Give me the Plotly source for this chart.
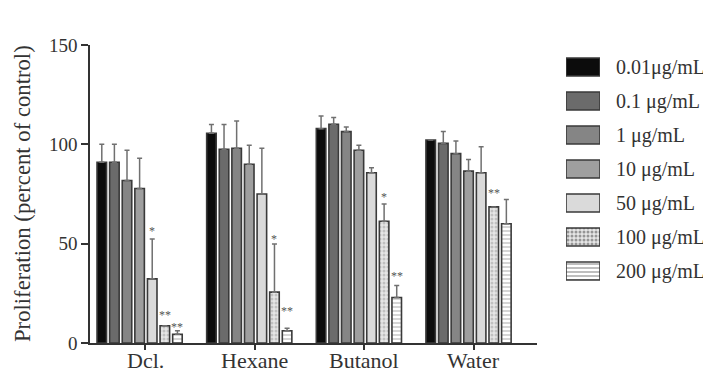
import plotly.graph_objects as go

categories = ["Dcl.", "Hexane", "Butanol", "Water"]
series_names = ["0.01μg/mL", "0.1 μg/mL", "1 μg/mL", "10 μg/mL", "50 μg/mL", "100 μg/mL", "200 μg/mL"]

# values per concentration (Dcl., Hexane, Butanol, Water)
v001 = [91.0, 105.6, 107.9, 102.2]
v01 = [91.0, 97.5, 110.1, 100.5]
v1 = [81.8, 98.0, 106.4, 95.3]
v10 = [77.8, 90.0, 97.0, 86.5]
v50 = [32.3, 75.0, 85.7, 85.7]
v100 = [8.7, 25.6, 61.3, 68.5]
v200 = [4.4, 6.2, 22.9, 60.0]

e001 = [9.0, 4.4, 6.4, 0.0]
e01 = [9.0, 12.5, 3.4, 5.9]
e1 = [15.2, 13.8, 2.3, 6.4]
e10 = [15.2, 9.6, 2.5, 5.9]
e50 = [20.1, 23.0, 2.5, 13.1]
e100 = [0.0, 24.2, 8.7, 0.0]
e200 = [1.8, 1.2, 6.0, 12.2]

values = [v001, v01, v1, v10, v50, v100, v200]
errors = [e001, e01, e1, e10, e50, e100, e200]

# significance marks
star_group = [0, 0, 0, 1, 1, 2, 2, 3]
star_series = [4, 5, 6, 5, 6, 5, 6, 5]
star_text = ["*", "**", "**", "*", "**", "*", "**", "**"]
star_y = [58, 15.7, 9.5, 54, 17.7, 75, 35, 77]

# styles
fill_colors = ["#0c0c0c", "#6b6b6b", "#858585", "#9f9f9f", "#dadada", "#e6e6e6", "#ffffff"]
pattern_shapes = ["", "", "", "", "", ".", "-"]
pattern_fg = ["#000", "#000", "#000", "#000", "#000", "#9a9a9a", "#8a8a8a"]
pattern_size = [8, 8, 8, 8, 8, 4, 4]
pattern_solidity = [0.3, 0.3, 0.3, 0.3, 0.3, 0.45, 0.35]

FONT = "Liberation Serif"
BAR_W = 0.087
PITCH = 0.115
START = -0.438

PAGE_OFF = 8  # default body margin of the html page
W_PLOT_PX = 621.0
MAIN_FRAC = 447.0 / W_PLOT_PX

fig = go.Figure()

for j, name in enumerate(series_names):
    fig.add_trace(go.Bar(
        x=categories,
        y=values[j],
        name=name,
        width=BAR_W,
        offset=START + j * PITCH,
        marker=dict(
            color=fill_colors[j],
            line=dict(color="#3a3a3a", width=1.6),
            pattern=dict(shape=pattern_shapes[j], fgcolor=pattern_fg[j],
                         fillmode="overlay", size=pattern_size[j],
                         solidity=pattern_solidity[j]),
        ),
        error_y=dict(type="data", array=errors[j], arrayminus=[0] * len(categories),
                     symmetric=False, color="#707070", thickness=1.5, width=2.5, visible=True),
        showlegend=False,
        xaxis="x", yaxis="y",
    ))

# legend swatches drawn as a horizontal bar trace on its own axes
fig.add_trace(go.Bar(
    x=[1] * len(series_names),
    y=series_names,
    orientation="h",
    marker=dict(
        color=fill_colors,
        line=dict(color="#3a3a3a", width=1.6),
        pattern=dict(shape=pattern_shapes, fgcolor=pattern_fg, fillmode="overlay",
                     size=pattern_size, solidity=pattern_solidity),
    ),
    showlegend=False,
    hoverinfo="skip",
    xaxis="x2", yaxis="y2",
))

annotations = []
for g, s, t, yv in zip(star_group, star_series, star_text, star_y):
    annotations.append(dict(
        x=g + START + s * PITCH + BAR_W / 2, y=yv, xref="x", yref="y",
        text=t, showarrow=False, yshift=-3,
        font=dict(family=FONT, size=12, color="#555555"),
    ))

# category labels (placed as text so they sit as close to the axis as in the reference)
for i, c in enumerate(categories):
    annotations.append(dict(
        x=i, xref="x", y=(343 - 373.5) / 298.0, yref="paper",
        xanchor="center", yanchor="bottom", text=c, showarrow=False, borderpad=0,
        font=dict(family=FONT, size=22, color="#333333"),
    ))

# legend labels
for k, name in enumerate(series_names):
    annotations.append(dict(
        x=(614 - 90) / W_PLOT_PX, xref="paper",
        y=name, yref="y2", xanchor="left", yanchor="middle",
        text=name, showarrow=False,
        font=dict(family=FONT, size=20, color="#333333"),
    ))

# y-axis title
annotations.append(dict(
    x=(22 - 90) / W_PLOT_PX, xref="paper", y=0.5, yref="paper",
    text="Proliferation (percent of control)", textangle=-90, showarrow=False,
    xanchor="center", yanchor="middle",
    font=dict(family=FONT, size=22.7, color="#333333"),
))

fig.update_layout(
    width=711 - PAGE_OFF, height=374 - PAGE_OFF,
    margin=dict(l=90 - PAGE_OFF, r=0, t=45 - PAGE_OFF, b=31, autoexpand=False),
    paper_bgcolor="white", plot_bgcolor="white",
    barmode="overlay", bargap=0.47,
    font=dict(family=FONT, color="#333333"),
    xaxis=dict(
        domain=[0, MAIN_FRAC], type="category", categoryorder="array", categoryarray=categories,
        range=[-0.502, 3.575], showline=True, linecolor="#333333", linewidth=1.5,
        ticks="outside", ticklen=5, tickwidth=1.5, tickcolor="#333333",
        showticklabels=False,
        showgrid=False, zeroline=False, automargin=False,
    ),
    yaxis=dict(
        range=[0, 150], tickvals=[0, 50, 100, 150], showline=True, linecolor="#333333",
        linewidth=1.5, ticks="outside", ticklen=7, tickwidth=1.5, tickcolor="#333333",
        tickfont=dict(family=FONT, size=19, color="#333333"),
        showgrid=False, zeroline=False, automargin=False,
    ),
    xaxis2=dict(
        domain=[(566 - 90) / W_PLOT_PX, (600 - 90) / W_PLOT_PX], range=[0, 1],
        anchor="y2", visible=False, fixedrange=True,
    ),
    yaxis2=dict(
        domain=[(343 - 288) / 298.0, (343 - 50) / 298.0], anchor="x2", type="category",
        categoryorder="array", categoryarray=series_names, autorange="reversed",
        visible=False, fixedrange=True,
    ),
    annotations=annotations,
)

fig.write_html("out.html")
